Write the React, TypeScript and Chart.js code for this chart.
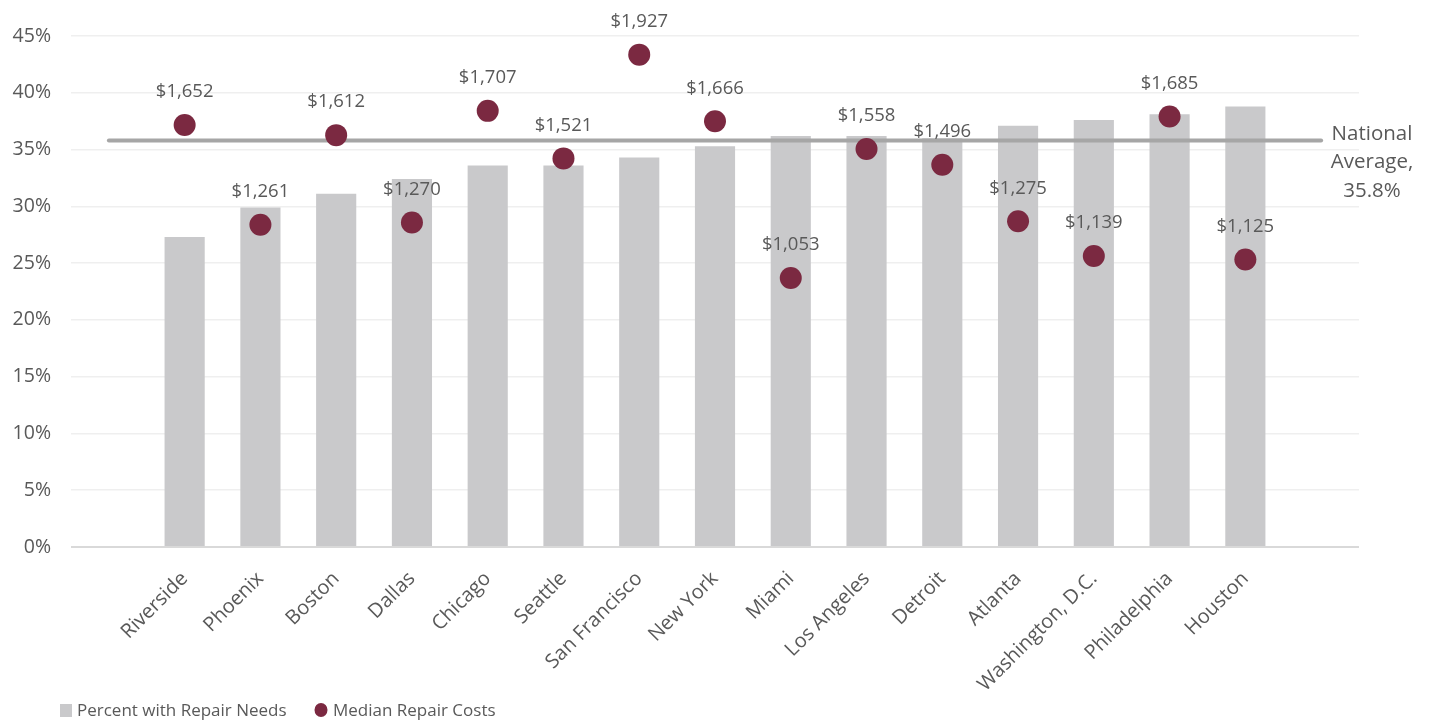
import React, { useEffect, useRef } from 'react';
import { Chart, registerables } from 'chart.js';

Chart.register(...registerables);

const categories = ['', 'Riverside', 'Phoenix', 'Boston', 'Dallas', 'Chicago', 'Seattle', 'San Francisco', 'New York', 'Miami', 'Los Angeles', 'Detroit', 'Atlanta', 'Washington, D.C.', 'Philadelphia', 'Houston', ''];
const repairPct = [null, 27.3, 29.9, 31.1, 32.4, 33.6, 33.6, 34.3, 35.3, 36.2, 36.2, 36.0, 37.1, 37.6, 38.1, 38.8, null];
const repairCost = [null, 1652, 1261, 1612, 1270, 1707, 1521, 1927, 1666, 1053, 1558, 1496, 1275, 1139, 1685, 1125, null];
const nationalAvg = 35.8;
const nationalLabel = ['National', 'Average,', '35.8%'];
const legendLabels = ['Percent with Repair Needs', 'Median Repair Costs'];

const FONT = '"Open Sans", sans-serif';
const TEXT = '#595959';
const BAR = '#c9c9cb';
const DOT = '#7b2941';
const LINE = '#a6a6a6';

export default function App() {
  const ref = useRef<HTMLCanvasElement>(null);
  useEffect(() => {
    if (!ref.current) return;
    const labelsPlugin = {
      id: 'customLabels',
      afterDraw(chart: any) {
        const ctx = chart.ctx;
        ctx.save();
        ctx.fillStyle = TEXT;
        ctx.font = `18.5px ${FONT}`;
        ctx.textAlign = 'center';
        ctx.textBaseline = 'middle';
        const meta = chart.getDatasetMeta(2);
        meta.data.forEach((pt: any, i: number) => {
          const v = repairCost[i];
          if (v == null) return;
          ctx.fillText('$' + v.toLocaleString('en-US'), pt.x, pt.y - 33);
        });
        // national average label
        const yAvg = chart.scales.y.getPixelForValue(nationalAvg);
        ctx.font = `20.5px ${FONT}`;
        nationalLabel.forEach((t, k) => {
          ctx.fillText(t, 1372, yAvg - 6.5 + k * 28.5);
        });
        // legend
        ctx.font = `17px ${FONT}`;
        ctx.textAlign = 'left';
        const ly = 711;
        ctx.fillStyle = BAR;
        ctx.fillRect(60, ly - 7, 12, 13);
        ctx.fillStyle = TEXT;
        ctx.fillText(legendLabels[0], 77, ly);
        ctx.fillStyle = DOT;
        ctx.beginPath();
        ctx.ellipse(321, ly - 1, 6.5, 7, 0, 0, Math.PI * 2);
        ctx.fill();
        ctx.fillStyle = TEXT;
        ctx.fillText(legendLabels[1], 333, ly);
        ctx.restore();
      },
    };
    const chart = new Chart(ref.current, {
      type: 'bar',
      data: {
        labels: categories,
        datasets: [
          {
            type: 'bar',
            label: legendLabels[0],
            data: repairPct as any,
            backgroundColor: BAR,
            categoryPercentage: 1,
            barPercentage: 0.53,
            yAxisID: 'y',
            order: 2,
          },
          {
            type: 'line',
            label: 'National Average',
            data: categories.map(() => nationalAvg),
            borderColor: LINE,
            borderWidth: 4,
            borderCapStyle: 'round',
            pointRadius: 0,
            yAxisID: 'y',
            order: 1,
          } as any,
          {
            type: 'line',
            label: legendLabels[1],
            data: repairCost as any,
            showLine: false,
            pointRadius: 11,
            pointHoverRadius: 11,
            pointBackgroundColor: DOT,
            pointBorderWidth: 0,
            borderColor: DOT,
            backgroundColor: DOT,
            yAxisID: 'y2',
            order: 0,
          } as any,
        ],
      },
      options: {
        animation: false,
        responsive: true,
        maintainAspectRatio: false,
        layout: { padding: { left: 0, right: 75, top: 36, bottom: 0 } },
        plugins: { legend: { display: false }, tooltip: { enabled: false } },
        scales: {
          x: {
            grid: { display: false },
            border: { display: false },
            ticks: {
              autoSkip: false,
              maxRotation: 45,
              minRotation: 45,
              color: TEXT,
              font: { family: FONT, size: 20 },
              padding: 12,
            },
            afterFit(scale: any) { scale.height = 174; },
          },
          y: {
            min: 0,
            max: 45,
            ticks: {
              stepSize: 5,
              color: TEXT,
              font: { family: FONT, size: 19.5 },
              padding: 20,
              callback: (v: any) => v + '%',
            },
            grid: {
              drawTicks: false,
              color: (c: any) => (c.tick && c.tick.value === 0 ? '#d9d9d9' : '#efefef'),
              lineWidth: (c: any) => (c.tick && c.tick.value === 0 ? 2 : 1.5),
            },
            border: { display: false },
            afterFit(scale: any) { scale.width = 71; },
          },
          y2: {
            display: false,
            min: 0,
            max: 2000,
          },
        },
      },
      plugins: [labelsPlugin],
    });
    return () => chart.destroy();
  }, []);
  return (
    <div style={{ position: 'fixed', left: 0, top: 0, width: 1434, height: 721 }}>
      <canvas ref={ref} />
    </div>
  );
}
